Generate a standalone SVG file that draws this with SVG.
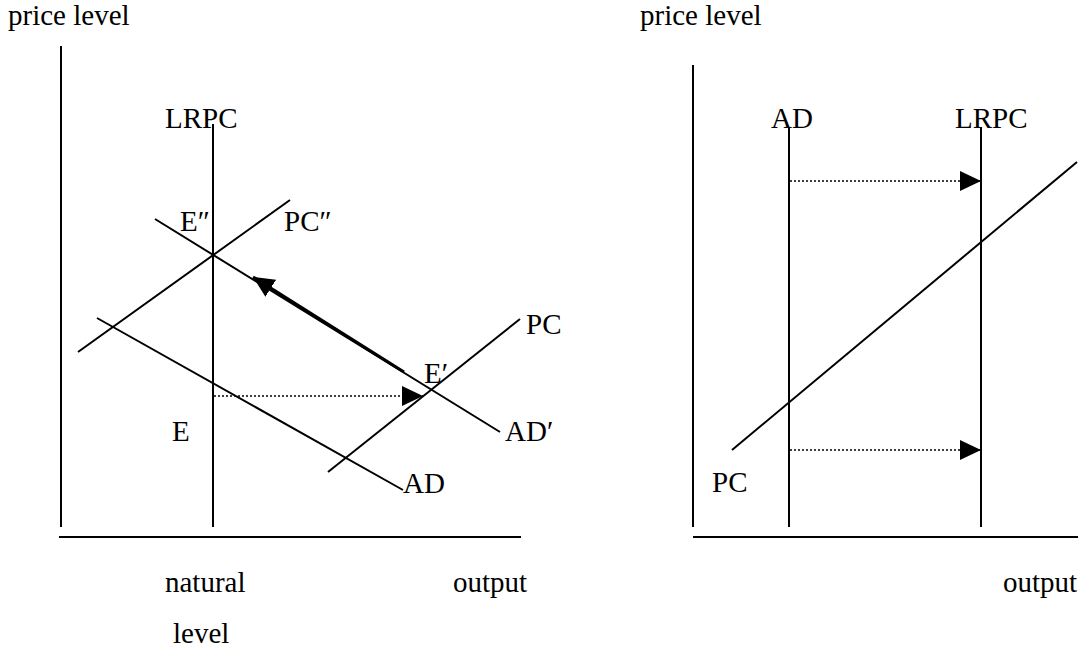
<svg xmlns="http://www.w3.org/2000/svg" width="1084" height="654" viewBox="0 0 1084 654">
<style>
.ln{stroke:#000;stroke-width:2;fill:none}
.dot{stroke:#000;stroke-width:1.3;stroke-dasharray:2 2;fill:none}
.thick{stroke:#000;stroke-width:3;fill:none}
text{font-family:"Liberation Serif","Times New Roman",serif;font-size:29px;fill:#000}
</style>
<defs>
<marker id="ah" markerUnits="userSpaceOnUse" markerWidth="22" markerHeight="20" refX="21" refY="10" orient="auto">
<path d="M0,0 L21,10 L0,20 z" fill="#000"/>
</marker>
</defs>
<rect width="1084" height="654" fill="#fff"/>
<g id="left-panel">
<g id="left-axes">
<line class="ln" x1="61" y1="46" x2="61" y2="527"/>
<line class="ln" x1="59" y1="537" x2="521" y2="537"/>
<text x="8" y="25">price level</text>
<text x="453" y="592">output</text>
<text x="165" y="592">natural</text>
<text x="173" y="643">level</text>
</g>
<g id="LRPC-left">
<line class="ln" x1="213" y1="124" x2="213" y2="527"/>
<text x="165" y="128">LRPC</text>
</g>
<g id="PC2-left">
<line class="ln" x1="78" y1="352" x2="290" y2="200"/>
<text x="284" y="231">PC″</text>
</g>
<g id="ADp-left">
<line class="ln" x1="155" y1="219" x2="500" y2="432"/>
<text x="505" y="441">AD′</text>
</g>
<g id="PC-left">
<line class="ln" x1="328" y1="472" x2="520" y2="319"/>
<text x="526" y="334">PC</text>
</g>
<g id="AD-left">
<line class="ln" x1="97" y1="318" x2="403" y2="490"/>
<text x="403" y="493">AD</text>
</g>
<g id="E2"><text x="180" y="231">E″</text></g>
<g id="Ep"><text x="424" y="383">E′</text></g>
<g id="E"><text x="172" y="441">E</text></g>
</g>
<g id="right-panel">
<g id="right-axes">
<line class="ln" x1="693" y1="65" x2="693" y2="527"/>
<line class="ln" x1="693" y1="537" x2="1078" y2="537"/>
<text x="640" y="25">price level</text>
<text x="1003" y="592">output</text>
</g>
<g id="AD-right">
<line class="ln" x1="789" y1="127" x2="789" y2="527"/>
<text x="771" y="128">AD</text>
</g>
<g id="LRPC-right">
<line class="ln" x1="981" y1="127" x2="981" y2="527"/>
<text x="955" y="128">LRPC</text>
</g>
<g id="PC-right">
<line class="ln" x1="732" y1="450" x2="1077" y2="162"/>
<text x="712" y="492">PC</text>
</g>
</g>
<g id="connectors">
<line class="thick" x1="404" y1="372" x2="253" y2="277" marker-end="url(#ah)"/>
<line class="dot" x1="214" y1="396" x2="423" y2="396" marker-end="url(#ah)"/>
<line class="dot" x1="790" y1="181" x2="981" y2="181" marker-end="url(#ah)"/>
<line class="dot" x1="790" y1="450" x2="981" y2="450" marker-end="url(#ah)"/>
</g>
</svg>
